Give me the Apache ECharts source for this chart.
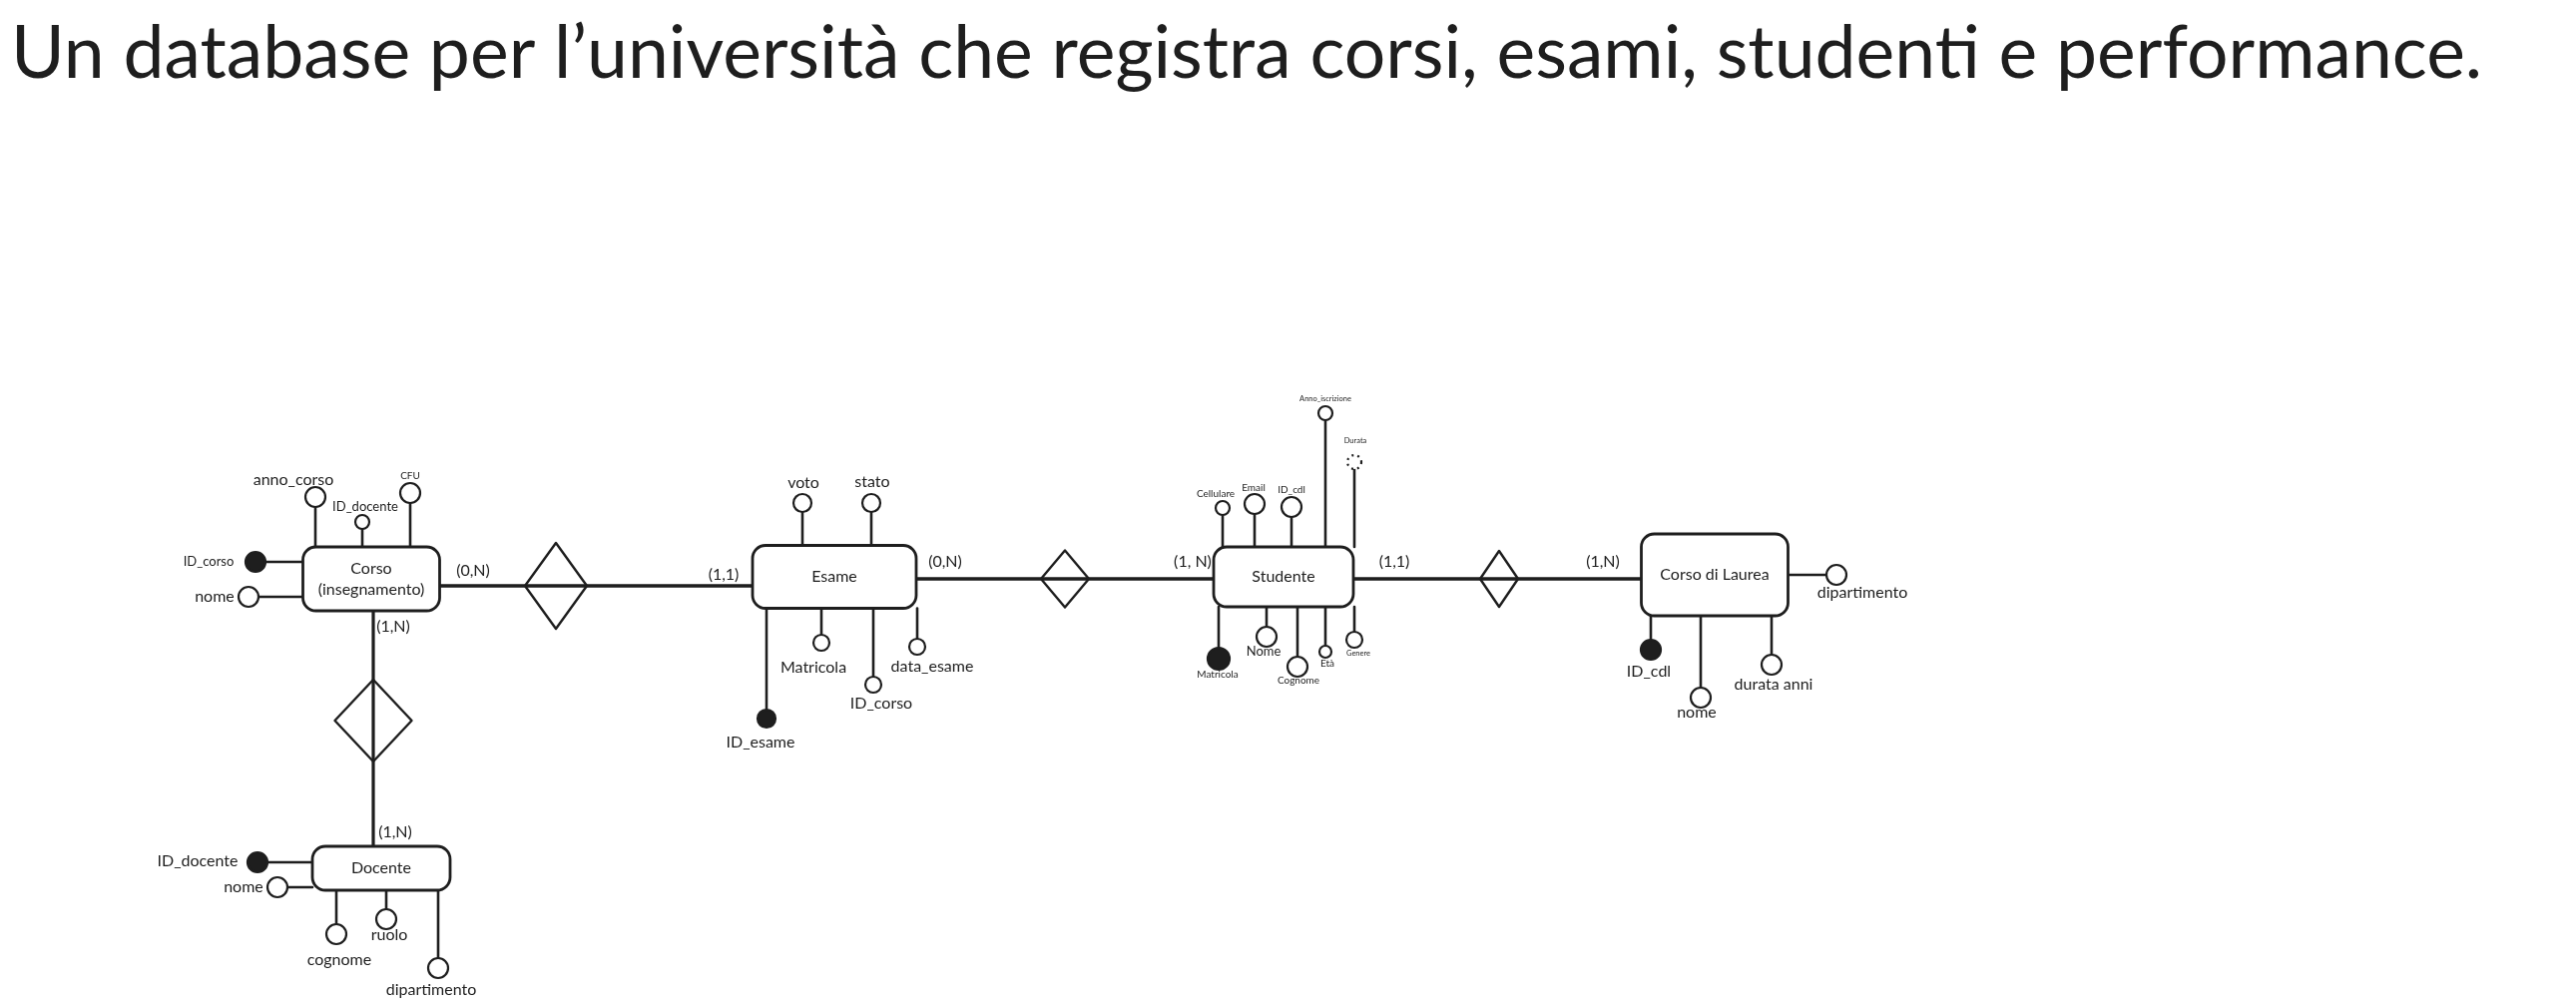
<!DOCTYPE html>
<html>
<head>
<meta charset="utf-8">
<title>ER università</title>
<script src="https://cdn.jsdelivr.net/npm/echarts@6/dist/echarts.min.js"></script>
<style>
  html, body { margin: 0; padding: 0; background: #fff; }
  #chart { width: 2581px; height: 1009px; }
</style>
</head>
<body>
<div id="chart"></div>
<script>
const titleText = 'Un database per l’università che registra corsi, esami, studenti e performance.'

// entità: nome, x, y (centro), larghezza, altezza
const entities = [
  ['Corso\n(insegnamento)', 372, 580, 137, 64],
  ['Esame', 836, 578, 164, 63],
  ['Studente', 1286, 578, 140, 60],
  ['Corso di Laurea', 1718, 576, 147, 82],
  ['Docente', 382, 870, 138, 44]
]

// associazioni (rombi): x, y, larghezza, altezza
const relations = [
  [557, 587, 62, 86],
  [374, 722, 77, 82],
  [1067, 580, 48, 57],
  [1502, 580, 38, 56]
]

// collegamenti: entità A, entità B, rombo, cardinalità A (testo, x, y), cardinalità B (testo, x, y)
const links = [
  [0, 1, 0, '(0,N)', 474, 572, '(1,1)', 725, 576],
  [0, 4, 1, '(1,N)', 394, 628, '(1,N)', 396, 834],
  [1, 2, 2, '(0,N)', 947, 563, '(1, N)', 1195, 563],
  [2, 3, 3, '(1,1)', 1397, 563, '(1,N)', 1606, 563]
]

// attributi: entità, nome, x, y, raggio, tipo (k = chiave, o = semplice, d = tratteggiato), etichetta x, y, corpo
const attributes = [
  [0, 'anno_corso', 316, 498, 10, 'o', 294, 481, 'L'],
  [0, 'ID_docente', 363, 523, 7, 'o', 366, 508, 'M'],
  [0, 'CFU', 411, 494, 10, 'o', 411, 477, 'S'],
  [0, 'ID_corso', 256, 563, 10, 'k', 209, 563, 'M'],
  [0, 'nome', 249, 598, 10, 'o', 215, 598, 'L'],
  [1, 'voto', 804, 504, 9, 'o', 805, 484, 'L'],
  [1, 'stato', 873, 504, 9, 'o', 874, 483, 'L'],
  [1, 'Matricola', 823, 644, 8, 'o', 815, 669, 'L'],
  [1, 'ID_corso', 875, 686, 8, 'o', 883, 705, 'L'],
  [1, 'data_esame', 919, 648, 8, 'o', 934, 668, 'L'],
  [1, 'ID_esame', 768, 720, 9, 'k', 762, 744, 'L'],
  [2, 'Cellulare', 1225, 509, 7, 'o', 1218, 495, 'S'],
  [2, 'Email', 1257, 505, 10, 'o', 1256, 489, 'S'],
  [2, 'ID_cdl', 1294, 508, 10, 'o', 1294, 491, 'S'],
  [2, 'Anno_iscrizione', 1328, 414, 7, 'o', 1328, 400, 'XS'],
  [2, 'Durata', 1357, 463, 7, 'd', 1358, 442, 'XS'],
  [2, 'Matricola', 1221, 660, 11, 'k', 1220, 676, 'S'],
  [2, 'Nome', 1269, 638, 10, 'o', 1266, 653, 'M'],
  [2, 'Cognome', 1300, 668, 10, 'o', 1301, 682, 'S'],
  [2, 'Età', 1328, 653, 6, 'o', 1330, 665, 'S'],
  [2, 'Genere', 1357, 641, 8, 'o', 1361, 655, 'XS'],
  [3, 'dipartimento', 1840, 576, 10, 'o', 1866, 594, 'L'],
  [3, 'ID_cdl', 1654, 651, 10, 'k', 1652, 673, 'L'],
  [3, 'nome', 1704, 699, 10, 'o', 1700, 714, 'L'],
  [3, 'durata anni', 1775, 666, 10, 'o', 1777, 686, 'L'],
  [4, 'ID_docente', 258, 864, 10, 'k', 198, 863, 'L'],
  [4, 'nome', 278, 889, 10, 'o', 244, 889, 'L'],
  [4, 'cognome', 337, 936, 10, 'o', 340, 962, 'L'],
  [4, 'ruolo', 387, 921, 10, 'o', 390, 937, 'L'],
  [4, 'dipartimento', 439, 970, 10, 'o', 432, 992, 'L']
]

const W = 2581, H = 1009
const ink = '#1e1e1e'
const font = 'Lato, "Noto Sans", sans-serif'
const fontSizes = { L: 16, M: 13, S: 10, XS: 7.5 }

// titolo: corpo calcolato per occupare la stessa larghezza del riferimento
const titleFont = 'Lato'
const ctx = document.createElement('canvas').getContext('2d')
ctx.font = '100px ' + titleFont
const titleSize = +(100 * 2476 / ctx.measureText(titleText).width).toFixed(1)

function box(e) {
  return { left: e[1] - e[3] / 2, right: e[1] + e[3] / 2, top: e[2] - e[4] / 2, bottom: e[2] + e[4] / 2 }
}

function textEl(api, text, x, y, size, align) {
  const p = api.coord([x, y])
  return {
    type: 'text', x: p[0], y: p[1],
    style: { text, fill: ink, fontSize: size, fontFamily: font, align: align || 'center', verticalAlign: 'middle' }
  }
}

function lineEl(api, a, b, width) {
  const p1 = api.coord(a), p2 = api.coord(b)
  return {
    type: 'line',
    shape: { x1: p1[0], y1: p1[1], x2: p2[0], y2: p2[1] },
    style: { stroke: ink, lineWidth: width, lineCap: 'round' }
  }
}

const renderLink = (params, api) => {
  const l = links[params.dataIndex]
  const a = box(entities[l[0]]), b = box(entities[l[1]])
  const r = relations[l[2]]
  const horizontal = Math.abs(entities[l[0]][1] - entities[l[1]][1]) > Math.abs(entities[l[0]][2] - entities[l[1]][2])
  const line = horizontal
    ? lineEl(api, [a.right, r[1]], [b.left, r[1]], 3.6)
    : lineEl(api, [r[0], a.bottom], [r[0], b.top], 3.2)
  return {
    type: 'group',
    children: [
      line,
      textEl(api, l[3], l[4], l[5], 16),
      textEl(api, l[6], l[7], l[8], 16)
    ]
  }
}

const renderRelation = (params, api) => {
  const c = api.coord([api.value(0), api.value(1)])
  const s = api.size([api.value(2), api.value(3)])
  return {
    type: 'polygon',
    shape: { points: [[c[0], c[1] - s[1] / 2], [c[0] + s[0] / 2, c[1]], [c[0], c[1] + s[1] / 2], [c[0] - s[0] / 2, c[1]]] },
    style: { fill: 'none', stroke: ink, lineWidth: 2.4, lineJoin: 'round' }
  }
}

const renderEntity = (params, api) => {
  const c = api.coord([api.value(0), api.value(1)])
  const s = api.size([api.value(2), api.value(3)])
  return {
    type: 'group',
    children: [
      {
        type: 'rect',
        shape: { x: c[0] - s[0] / 2, y: c[1] - s[1] / 2, width: s[0], height: s[1], r: 13 },
        style: { fill: '#fff', stroke: ink, lineWidth: 2.8 }
      },
      {
        type: 'text', x: c[0], y: c[1],
        style: {
          text: entities[params.dataIndex][0], fill: ink, fontSize: 16, fontFamily: font,
          align: 'center', verticalAlign: 'middle', lineHeight: 21
        }
      }
    ]
  }
}

const renderAttribute = (params, api) => {
  const at = attributes[params.dataIndex]
  const b = box(entities[at[0]])
  const x = at[2], y = at[3], r = at[4]
  let from, to
  if (y < b.top) { from = [x, y + r]; to = [x, b.top] }
  else if (y > b.bottom) { from = [x, y - r]; to = [x, b.bottom] }
  else if (x < b.left) { from = [x + r, y]; to = [b.left, y] }
  else { from = [x - r, y]; to = [b.right, y] }
  const c = api.coord([x, y])
  const rr = api.size([r, r])[0]
  return {
    type: 'group',
    children: [
      lineEl(api, from, to, 2.6),
      {
        type: 'circle',
        shape: { cx: c[0], cy: c[1], r: rr },
        style: {
          fill: at[5] === 'k' ? ink : '#fff',
          stroke: ink,
          lineWidth: 2.2,
          lineDash: at[5] === 'd' ? [2, 4] : null
        }
      },
      textEl(api, at[1], at[6], at[7], fontSizes[at[8]])
    ]
  }
}

const chart = echarts.init(document.getElementById('chart'))
chart.setOption({
  animation: false,
  backgroundColor: '#fff',
  title: {
    text: titleText,
    left: 6,
    top: 79 - Math.round(titleSize * 0.9),
    textStyle: { fontFamily: titleFont, fontSize: titleSize, fontWeight: 'normal', color: ink }
  },
  grid: { left: 0, right: 0, top: 0, bottom: 0 },
  xAxis: { type: 'value', min: 0, max: W, show: false },
  yAxis: { type: 'value', min: 0, max: H, inverse: true, show: false },
  series: [
    {
      type: 'custom', name: 'collegamenti', z: 1,
      data: links.map(l => [relations[l[2]][0], relations[l[2]][1]]),
      encode: { x: 0, y: 1 },
      renderItem: renderLink
    },
    {
      type: 'custom', name: 'associazioni', z: 2,
      data: relations,
      encode: { x: 0, y: 1 },
      renderItem: renderRelation
    },
    {
      type: 'custom', name: 'attributi', z: 3,
      data: attributes.map(a => [a[2], a[3]]),
      encode: { x: 0, y: 1 },
      renderItem: renderAttribute
    },
    {
      type: 'custom', name: 'entità', z: 4,
      data: entities.map(e => [e[1], e[2], e[3], e[4]]),
      encode: { x: 0, y: 1 },
      renderItem: renderEntity
    }
  ]
})
</script>
</body>
</html>
